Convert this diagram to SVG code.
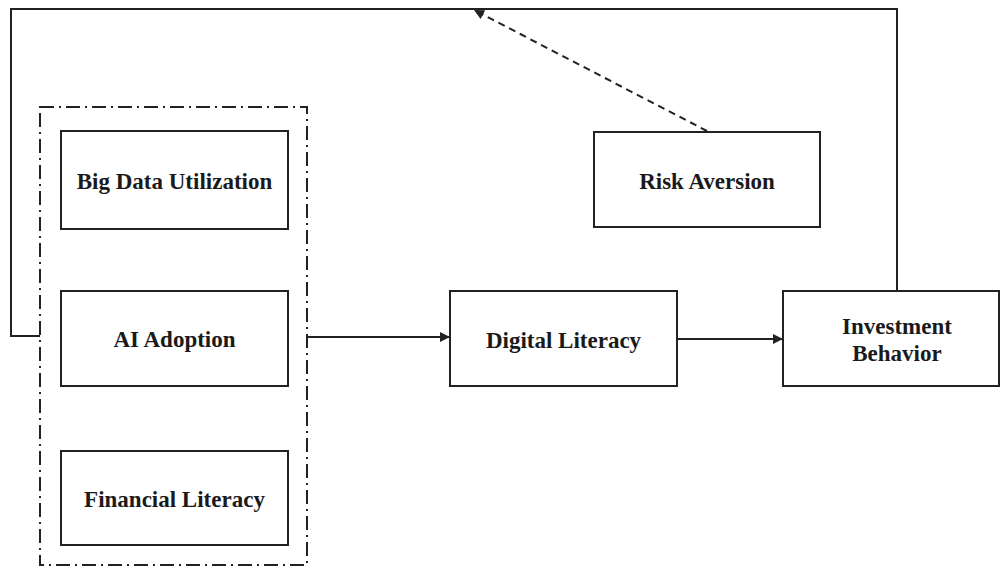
<svg xmlns="http://www.w3.org/2000/svg" width="1002" height="567" viewBox="0 0 1002 567">
  <style>
    .box { fill: #fff; stroke: #222; stroke-width: 2; }
    .lbl { font-family: "Liberation Serif", "Times New Roman", serif; font-weight: bold; font-size: 23px; fill: #1a1a1a; text-anchor: middle; }
    .line { fill: none; stroke: #222; stroke-width: 2; }
    .dash { fill: none; stroke: #222; stroke-width: 2; stroke-dasharray: 7 5; }
    .group { fill: none; stroke: #222; stroke-width: 2; stroke-dasharray: 14 5 2 5; }
  </style>
  <defs>
    <marker id="arrowBig" viewBox="0 0 10 10" refX="10" refY="5" markerWidth="13" markerHeight="10" markerUnits="userSpaceOnUse" orient="auto">
      <path d="M0,0 L10,5 L0,10 z" fill="#222"/>
    </marker>
  </defs>
  <rect width="1002" height="567" fill="#fff"/>

  <!-- dash-dot grouping frame -->
  <rect id="predictors" class="group" x="40" y="107" width="267" height="458"/>

  <g id="connectors">
    <!-- feedback loop over the top -->
    <polyline class="line" points="40,336 11,336 11,9 897,9 897,291"/>
    <!-- risk aversion moderating path -->
    <line class="dash" x1="707" y1="131" x2="474" y2="10" marker-end="url(#arrowBig)"/>
    <line class="line" x1="307" y1="337" x2="450" y2="337" marker-end="url(#arrowBig)"/>
    <line class="line" x1="677" y1="339" x2="783" y2="339" marker-end="url(#arrowBig)"/>
  </g>

  <g id="big-data">
    <rect class="box" x="61" y="131" width="227" height="98"/>
    <text class="lbl" x="174.5" y="189">Big Data Utilization</text>
  </g>
  <g id="ai-adoption">
    <rect class="box" x="61" y="291" width="227" height="95"/>
    <text class="lbl" x="174.5" y="347">AI Adoption</text>
  </g>
  <g id="financial-literacy">
    <rect class="box" x="61" y="451" width="227" height="94"/>
    <text class="lbl" x="174.5" y="507">Financial Literacy</text>
  </g>
  <g id="digital-literacy">
    <rect class="box" x="450" y="291" width="227" height="95"/>
    <text class="lbl" x="563.5" y="348">Digital Literacy</text>
  </g>
  <g id="risk-aversion">
    <rect class="box" x="594" y="132" width="226" height="95"/>
    <text class="lbl" x="707" y="189">Risk Aversion</text>
  </g>
  <g id="investment-behavior">
    <rect class="box" x="783" y="291" width="216" height="95"/>
    <text class="lbl" x="897" y="334">Investment</text>
    <text class="lbl" x="897" y="361">Behavior</text>
  </g>
</svg>
